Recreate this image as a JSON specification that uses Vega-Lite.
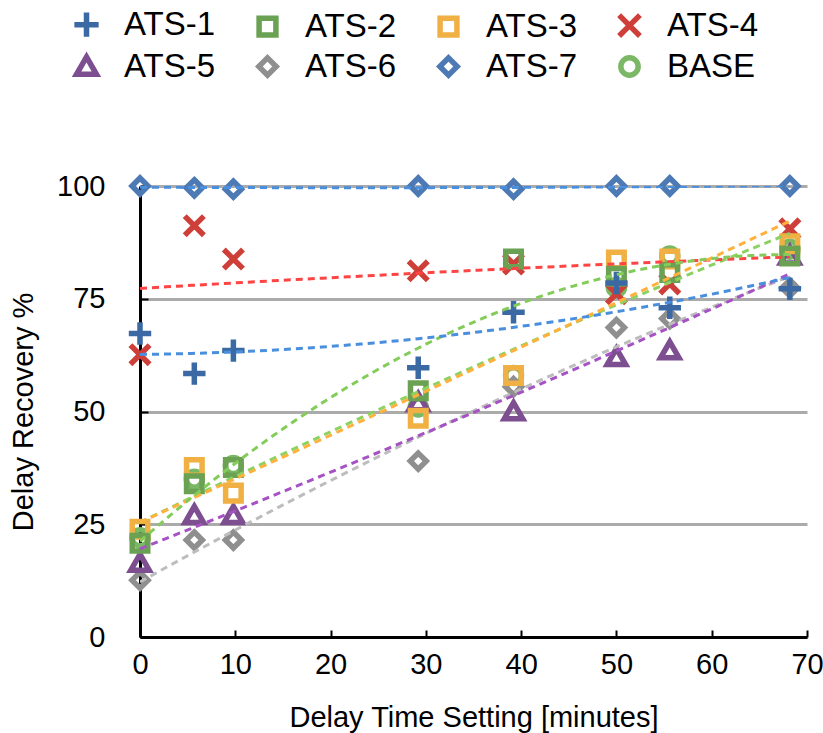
{
  "$schema": "https://vega.github.io/schema/vega-lite/v6.json",
  "width": 667,
  "height": 451,
  "autosize": {"type": "none"},
  "padding": {"left": 140, "top": 186, "right": 16, "bottom": 96},
  "background": "white",
  "config": {
    "font": "Liberation Sans",
    "view": {"stroke": null}
  },
  "data": {
    "values": [
      {"series": "BASE", "delay": 0, "recovery": 22},
      {"series": "BASE", "delay": 5.7, "recovery": 35},
      {"series": "BASE", "delay": 9.8, "recovery": 38},
      {"series": "BASE", "delay": 29.2, "recovery": 51},
      {"series": "BASE", "delay": 39.2, "recovery": 58},
      {"series": "BASE", "delay": 50, "recovery": 77.5},
      {"series": "BASE", "delay": 55.6, "recovery": 84.5},
      {"series": "BASE", "delay": 68.2, "recovery": 86},
      {"series": "ATS-7", "delay": 0, "recovery": 100},
      {"series": "ATS-7", "delay": 5.7, "recovery": 99.6},
      {"series": "ATS-7", "delay": 9.8, "recovery": 99.3},
      {"series": "ATS-7", "delay": 29.2, "recovery": 100},
      {"series": "ATS-7", "delay": 39.2, "recovery": 99.3},
      {"series": "ATS-7", "delay": 50, "recovery": 100},
      {"series": "ATS-7", "delay": 55.6, "recovery": 100},
      {"series": "ATS-7", "delay": 68.2, "recovery": 100},
      {"series": "ATS-6", "delay": 0, "recovery": 12.6},
      {"series": "ATS-6", "delay": 5.7, "recovery": 21.5},
      {"series": "ATS-6", "delay": 9.8, "recovery": 21.5},
      {"series": "ATS-6", "delay": 29.2, "recovery": 39},
      {"series": "ATS-6", "delay": 39.2, "recovery": 55.5},
      {"series": "ATS-6", "delay": 50, "recovery": 68.6},
      {"series": "ATS-6", "delay": 55.6, "recovery": 70.6},
      {"series": "ATS-6", "delay": 68.2, "recovery": 77.4},
      {"series": "ATS-5", "delay": 0, "recovery": 16.4},
      {"series": "ATS-5", "delay": 5.7, "recovery": 27},
      {"series": "ATS-5", "delay": 9.8, "recovery": 27},
      {"series": "ATS-5", "delay": 29.2, "recovery": 52},
      {"series": "ATS-5", "delay": 39.2, "recovery": 50},
      {"series": "ATS-5", "delay": 50, "recovery": 62},
      {"series": "ATS-5", "delay": 55.6, "recovery": 63.5},
      {"series": "ATS-5", "delay": 68.2, "recovery": 84.5},
      {"series": "ATS-4", "delay": 0, "recovery": 62.6},
      {"series": "ATS-4", "delay": 5.7, "recovery": 91.2},
      {"series": "ATS-4", "delay": 9.8, "recovery": 83.8},
      {"series": "ATS-4", "delay": 29.2, "recovery": 81.2},
      {"series": "ATS-4", "delay": 39.2, "recovery": 82.7},
      {"series": "ATS-4", "delay": 50, "recovery": 76.1},
      {"series": "ATS-4", "delay": 55.6, "recovery": 78.3},
      {"series": "ATS-4", "delay": 68.2, "recovery": 90.5},
      {"series": "ATS-3", "delay": 0, "recovery": 23.9},
      {"series": "ATS-3", "delay": 5.7, "recovery": 37.6},
      {"series": "ATS-3", "delay": 9.8, "recovery": 31.9},
      {"series": "ATS-3", "delay": 29.2, "recovery": 48.5},
      {"series": "ATS-3", "delay": 39.2, "recovery": 58},
      {"series": "ATS-3", "delay": 50, "recovery": 83.6},
      {"series": "ATS-3", "delay": 55.6, "recovery": 83.8},
      {"series": "ATS-3", "delay": 68.2, "recovery": 87.2},
      {"series": "ATS-2", "delay": 0, "recovery": 20.8},
      {"series": "ATS-2", "delay": 5.7, "recovery": 34},
      {"series": "ATS-2", "delay": 9.8, "recovery": 37.6},
      {"series": "ATS-2", "delay": 29.2, "recovery": 54.6},
      {"series": "ATS-2", "delay": 39.2, "recovery": 83.8},
      {"series": "ATS-2", "delay": 50, "recovery": 80},
      {"series": "ATS-2", "delay": 55.6, "recovery": 80.8},
      {"series": "ATS-2", "delay": 68.2, "recovery": 84.5},
      {"series": "ATS-1", "delay": 0, "recovery": 67.3},
      {"series": "ATS-1", "delay": 5.7, "recovery": 58.4},
      {"series": "ATS-1", "delay": 9.8, "recovery": 63.5},
      {"series": "ATS-1", "delay": 29.2, "recovery": 59.7},
      {"series": "ATS-1", "delay": 39.2, "recovery": 72},
      {"series": "ATS-1", "delay": 50, "recovery": 78.5},
      {"series": "ATS-1", "delay": 55.6, "recovery": 73},
      {"series": "ATS-1", "delay": 68.2, "recovery": 77.2}
    ]
  },
  "layer": [
    {
      "mark": {"type": "point", "filled": false, "strokeWidth": 5.5, "size": 256, "opacity": 1, "strokeJoin": "miter"},
      "encoding": {
        "x": {
          "field": "delay", "type": "quantitative",
          "scale": {"domain": [0, 70], "nice": false, "zero": false},
          "axis": {
            "values": [0, 10, 20, 30, 40, 50, 60, 70],
            "title": "Delay Time Setting [minutes]",
            "titleFontSize": 29, "titleFontWeight": "normal", "titleColor": "black",
            "titlePadding": 24,
            "labelFontSize": 29, "labelColor": "black", "labelPadding": 20, "labelFlush": false,
            "domainColor": "black", "domainWidth": 3,
            "tickColor": "black", "tickWidth": 2, "tickSize": -7,
            "grid": false
          }
        },
        "y": {
          "field": "recovery", "type": "quantitative",
          "scale": {"domain": [0, 100], "nice": false},
          "axis": {
            "values": [0, 25, 50, 75, 100],
            "title": "Delay Recovery %",
            "titleFontSize": 29, "titleFontWeight": "normal", "titleColor": "black",
            "titlePadding": 18,
            "labelFontSize": 29, "labelColor": "black", "labelPadding": 43,
            "domainColor": "black", "domainWidth": 3,
            "tickColor": "black", "tickWidth": 2, "tickSize": -8,
            "grid": true, "gridColor": "#ababab", "gridWidth": 3
          }
        },
        "color": {
          "field": "series", "type": "nominal",
          "scale": {
            "domain": ["ATS-1", "ATS-2", "ATS-3", "ATS-4", "ATS-5", "ATS-6", "ATS-7", "BASE"],
            "range": ["#3B69A3", "#6AA152", "#F0B043", "#CF3F3A", "#7D4E90", "#8F8F8F", "#4D7AB4", "#7AB865"]
          },
          "legend": {
            "title": null, "orient": "none", "legendX": -70, "legendY": -178,
            "direction": "horizontal", "columns": 4, "gridAlign": "all",
            "labelFontSize": 33, "labelColor": "black", "labelOffset": 21,
            "symbolSize": 300, "symbolStrokeWidth": 5.5,
            "columnPadding": 30, "rowPadding": -3
          }
        },
        "shape": {
          "field": "series", "type": "nominal",
          "scale": {
            "domain": ["ATS-1", "ATS-2", "ATS-3", "ATS-4", "ATS-5", "ATS-6", "ATS-7", "BASE"],
            "range": [
              "M-1.4,0H1.4M0,-1.4V1.4",
              "M-0.97,-0.97H0.97V0.97H-0.97Z",
              "M-0.97,-0.97H0.97V0.97H-0.97Z",
              "M-1.2,-1.2L1.2,1.2M-1.2,1.2L1.2,-1.2",
              "M0,-1.1L1.15,0.9H-1.15Z",
              "M0,-1L1,0L0,1L-1,0Z",
              "M0,-1L1,0L0,1L-1,0Z",
              "circle"
            ]
          },
          "legend": {
            "title": null, "orient": "none", "legendX": -70, "legendY": -178,
            "direction": "horizontal", "columns": 4, "gridAlign": "all",
            "labelFontSize": 33, "labelColor": "black", "labelOffset": 21,
            "symbolSize": 300, "symbolStrokeWidth": 5.5,
            "columnPadding": 30, "rowPadding": -3
          }
        }
      }
    },
    {
      "transform": [
        {"regression": "recovery", "on": "delay", "groupby": ["series"], "method": "poly", "order": 2, "extent": [0, 68.2]}
      ],
      "mark": {"type": "line", "strokeWidth": 3, "strokeDash": [7, 5], "clip": true},
      "encoding": {
        "x": {"field": "delay", "type": "quantitative"},
        "y": {"field": "recovery", "type": "quantitative"},
        "detail": {"field": "series"},
        "stroke": {
          "field": "series", "type": "nominal",
          "scale": {
            "domain": ["ATS-1", "ATS-2", "ATS-3", "ATS-4", "ATS-5", "ATS-6", "ATS-7", "BASE"],
            "range": ["#4A8FDD", "#84CC5A", "#FFB13C", "#FF4444", "#A552C4", "#BDBDBD", "#4A8FDD", "#8CD262"]
          },
          "legend": null
        }
      }
    }
  ]
}
